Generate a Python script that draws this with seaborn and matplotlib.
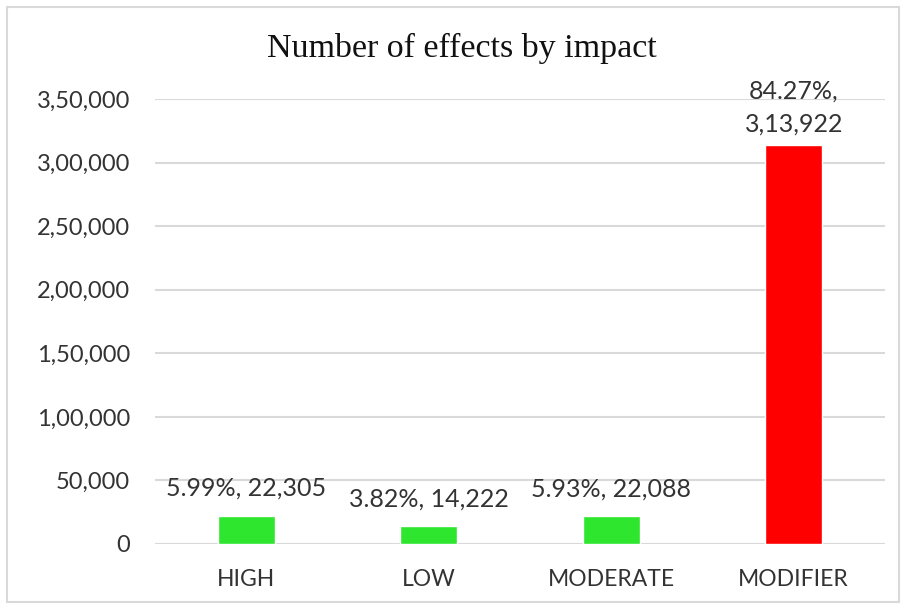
import matplotlib
matplotlib.use("Agg")
import matplotlib.pyplot as plt
import seaborn as sns
import pandas as pd
from matplotlib.ticker import FuncFormatter
from matplotlib.patches import Rectangle

categories = ["HIGH", "LOW", "MODERATE", "MODIFIER"]
counts = [22305, 14222, 22088, 313922]
percents = [5.99, 3.82, 5.93, 84.27]
bar_colors = ["#2EE62E", "#2EE62E", "#2EE62E", "#FF0000"]
yticks = [0, 50000, 100000, 150000, 200000, 250000, 300000, 350000]

def indian(n):
    n = int(round(n))
    s = str(n)
    if len(s) <= 3:
        return s
    last3 = s[-3:]
    rest = s[:-3]
    groups = []
    while len(rest) > 2:
        groups.insert(0, rest[-2:])
        rest = rest[:-2]
    if rest:
        groups.insert(0, rest)
    return ",".join(groups + [last3])

sns.set_theme(style="white")
plt.rcParams['font.family'] = ['Lato', 'DejaVu Sans']

df = pd.DataFrame({"impact": categories, "count": counts})

fig = plt.figure(figsize=(9.07, 6.07), dpi=100)
ax = fig.add_axes([155/907, 1 - 544/607, 730/907, (544 - 99)/607])
sns.barplot(data=df, x="impact", y="count", hue="impact", palette=bar_colors,
            width=0.31, legend=False, ax=ax, saturation=1)

ax.set_ylim(0, 350000)
ax.set_xlim(-0.5, 3.5)
ax.set_yticks(yticks)
ax.yaxis.set_major_formatter(FuncFormatter(lambda v, p: indian(v)))
ax.grid(axis="y", color="#D9D9D9", linewidth=1.5)
ax.set_axisbelow(True)
for s in ax.spines.values():
    s.set_visible(False)
ax.set_xlabel("")
ax.set_ylabel("")
ax.tick_params(axis="y", length=0, pad=18, labelsize=17, labelcolor="#333333")
ax.tick_params(axis="x", length=0, pad=18, labelsize=16.5, labelcolor="#333333")

for i, (c, p) in enumerate(zip(counts, percents)):
    if i == 3:
        txt = f"{p:.2f}%,\n{indian(c)}"
        off = 27
    else:
        txt = f"{p:.2f}%, {indian(c)}"
        off = 19.5
    ax.annotate(txt, (i, c), xytext=(0, off), textcoords="offset points",
                ha="center", va="center", fontsize=18, color="#333333",
                linespacing=1.5, annotation_clip=False)

fig.text(462/907, 1 - 48/607, "Number of effects by impact", ha="center", va="center",
         fontsize=24.5, family="Liberation Serif", color="#111111")

fig.patches.append(Rectangle((7/907, 5/607), 892/907, 595/607, transform=fig.transFigure,
                             fill=False, edgecolor="#D9D9D9", linewidth=1.5))

fig.savefig("out.png", dpi=100)
